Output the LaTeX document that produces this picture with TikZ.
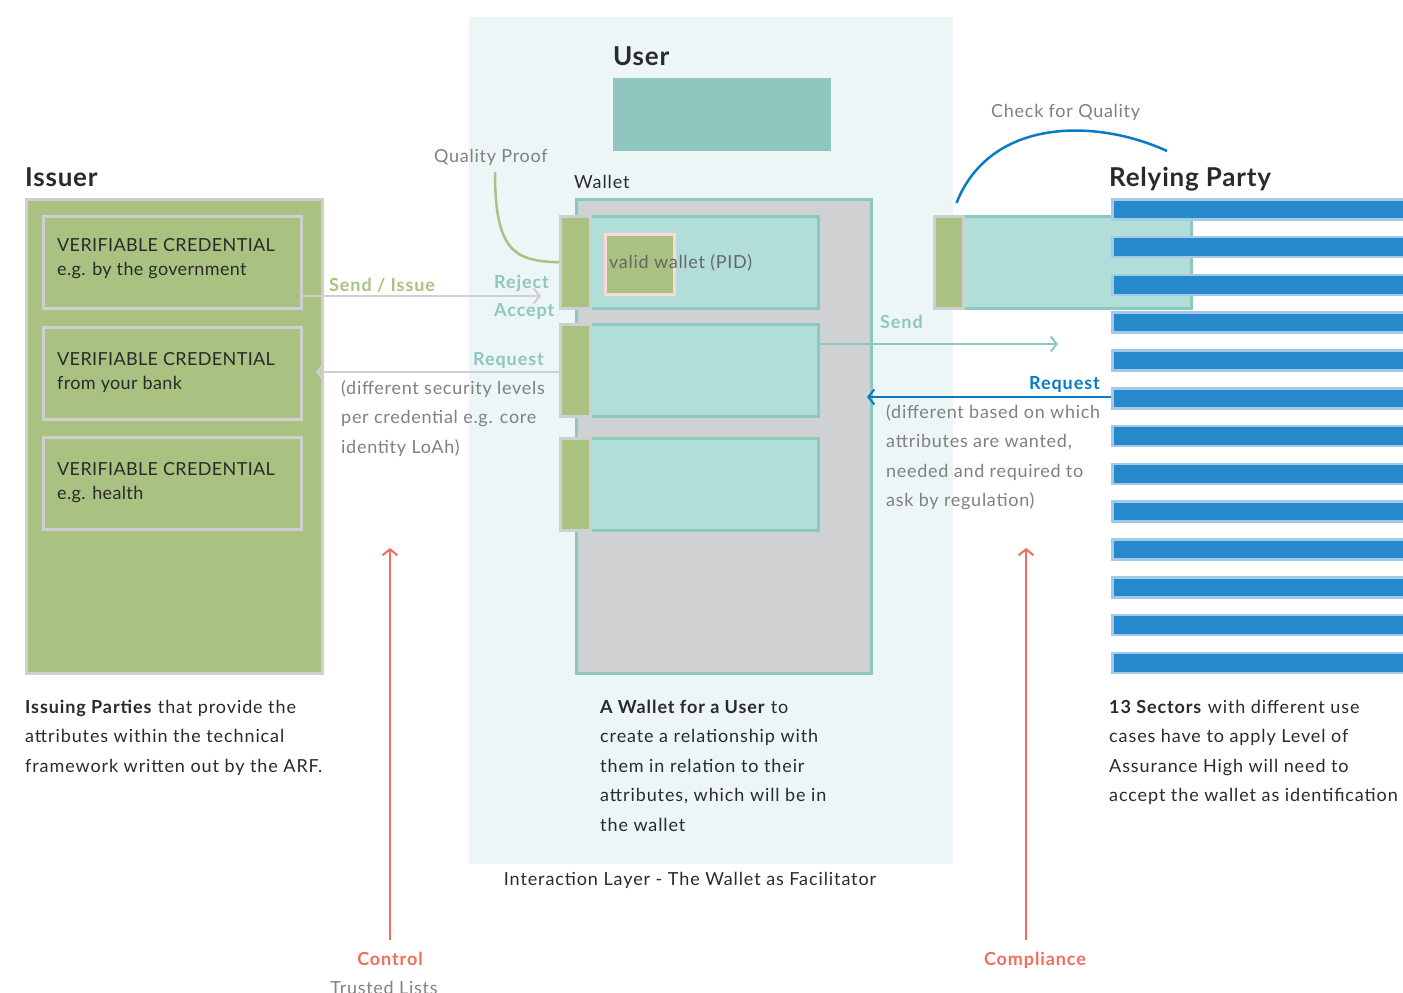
\documentclass[tikz,border=0pt]{standalone}
\usepackage{fontspec}
\setmainfont{Lato}
\usetikzlibrary{arrows.meta}
\definecolor{bgpale}{HTML}{ECF6F7}
\definecolor{leaf}{HTML}{A9C281}
\definecolor{teal}{HTML}{8FC6BF}
\definecolor{aqua}{HTML}{B2DED9}
\definecolor{tealline}{HTML}{8CC8BE}
\definecolor{greyfill}{HTML}{D0D1D3}
\definecolor{greyline}{HTML}{CDCFD1}
\definecolor{barblue}{HTML}{2589CB}
\definecolor{barrim}{HTML}{A3C9E8}
\definecolor{linkblue}{HTML}{0B7AC4}
\definecolor{coral}{HTML}{F06E5E}
\definecolor{inkdark}{HTML}{2A2A2A}
\definecolor{inkgrey}{HTML}{808080}
% stacked lines whose baseline is the first line's
\newcommand\stack[1]{\begin{tabular}[t]{@{}l@{}}#1\end{tabular}}
\newcommand\wide[1]{\addfontfeatures{LetterSpace=#1}}
\tikzset{
  blk/.style={rectangle, inner sep=0pt, anchor=north west},
  title/.style={font=\fontsize{26}{30}\selectfont\bfseries\wide{3}, text=inkdark, anchor=base west, inner sep=0pt},
  body/.style={font=\fontsize{18}{29.5}\selectfont\wide{5}, text=inkdark, anchor=base west, inner sep=0pt},
  note/.style={font=\fontsize{18}{29.5}\selectfont\wide{4}, text=inkgrey, anchor=base west, inner sep=0pt},
  cred/.style={font=\fontsize{18}{24}\selectfont\wide{2}, text=inkdark, anchor=base west, inner sep=0pt},
  tag/.style={font=\fontsize{18}{20}\selectfont\bfseries\wide{5}, anchor=base west, inner sep=0pt},
  barb/.style={-{Straight Barb[length=6pt,width=15pt,line width=2pt]}},
  rpbar/.style={blk, fill=barblue, draw=barrim, line width=2.5pt, minimum width=300pt, minimum height=20pt},
}
\begin{document}
\begin{tikzpicture}[x=1pt,y=-1pt]
\useasboundingbox (0,0) rectangle (1403,993);
% interaction layer backdrop
\node[blk, fill=bgpale, minimum width=484pt, minimum height=847pt] (layer) at (469,17) {};

% ---------- Issuer ----------
\node[title] (issuerT) at (25,186) {Issuer};
\node[blk, fill=leaf, draw=greyline, line width=3pt, minimum width=296pt, minimum height=474pt] (issuer) at (25,198) {};
\node[blk, draw=greyline, line width=3pt, minimum width=258pt, minimum height=92pt] (vc1) at (42,215) {};
\node[blk, draw=greyline, line width=3pt, minimum width=258pt, minimum height=92pt] (vc2) at (42,326) {};
\node[blk, draw=greyline, line width=3pt, minimum width=258pt, minimum height=92pt] (vc3) at (42,436) {};
\node[cred] at (57,251) {\stack{VERIFIABLE CREDENTIAL\\e.g. by the government}};
\node[cred] at (57,365) {\stack{VERIFIABLE CREDENTIAL\\from your bank}};
\node[cred] at (57,475) {\stack{VERIFIABLE CREDENTIAL\\e.g. health}};
\node[body] at (25,713) {\stack{\textbf{Issuing Parties} that provide the\\attributes within the technical\\framework written out by the ARF.}};

% ---------- User and wallet ----------
\node[title] (userT) at (613,65) {User};
\node[blk, fill=teal, minimum width=218pt, minimum height=73pt] (user) at (613,78) {};
\node[body] (walletT) at (574,188) {Wallet};
\node[blk, fill=greyfill, draw=tealline, line width=2.5pt, minimum width=295pt, minimum height=474pt] (wallet) at (575,198) {};
\foreach \n/\y in {1/215,2/323,3/437}{
  \node[blk, fill=aqua, draw=tealline, line width=2.5pt, minimum width=228pt, minimum height=92pt] (slot\n) at (589,\y) {};
  \node[blk, fill=leaf, draw=greyline, line width=2.5pt, minimum width=30pt, minimum height=92pt] (tab\n) at (559,\y) {};
}
\node[blk, fill=leaf, draw=pink!60, line width=2.5pt, minimum width=69pt, minimum height=60pt] (pid) at (604,233) {};
\node[note, text=inkgrey!80!black] at (609,268) {valid wallet (PID)};
\node[body] at (600,713) {\stack{\textbf{A Wallet for a User} to\\create a relationship with\\them in relation to their\\attributes, which will be in\\the wallet}};
\node[body, anchor=base] at (690,885) {Interaction Layer - The Wallet as Facilitator};

% quality proof link
\node[note] (qpT) at (434,162) {Quality Proof};
\coordinate (qpStart) at (495,172);
\draw[leaf, line width=2.5pt] (qpStart) .. controls (495,252) and (515,261) .. (tab1.west);

% ---------- Issuer <-> wallet ----------
\coordinate (issueFrom) at (vc1.east |- 0,296);
\coordinate (issueTo) at (541,296);
\draw[greyline, line width=2.5pt, barb] (issueFrom) -- (issueTo);
\node[tag, text=leaf] at (329,291) {Send / Issue};
\node[tag, text=teal] at (494,288) {Reject};
\node[tag, text=teal] at (494,316) {Accept};
\coordinate (reqFrom) at (tab2.west |- 0,372);
\coordinate (reqTo) at (316,372);
\draw[greyline, line width=2.5pt, barb] (reqFrom) -- (reqTo);
\node[tag, text=teal, anchor=base east] at (544,365) {Request};
\node[note] at (341,394) {\stack{(different security levels\\per credential e.g. core\\identity LoAh)}};

% ---------- Relying party ----------
\node[title] (rpT) at (1109,186) {Relying Party};
\node[blk, fill=aqua, draw=tealline, line width=2.5pt, minimum width=228pt, minimum height=92pt] (rpslot) at (962,215) {};
\node[blk, fill=leaf, draw=greyline, line width=2.5pt, minimum width=29pt, minimum height=92pt] (rptab) at (933,215) {};
\foreach \i in {0,...,12}{
  \node[rpbar] (bar\i) at (1111,{198+37.8*\i}) {};
}
\node[body] at (1109,713) {\stack{\textbf{13 Sectors} with different use\\cases have to apply Level of\\Assurance High will need to\\accept the wallet as identification}};

% check for quality link
\node[note] (cqT) at (991,117) {Check for Quality};
\coordinate (cqEnd) at (1167,151);
\draw[linkblue, line width=2.5pt] (rptab.north east) ++(-8,-12) .. controls (990,118) and (1095,118) .. (cqEnd);

% ---------- Wallet <-> relying party ----------
\coordinate (sendFrom) at (slot2.east |- 0,344);
\coordinate (sendTo) at (1058,344);
\draw[tealline, line width=2.5pt, barb] (sendFrom) -- (sendTo);
\node[tag, text=teal] at (880,328) {Send};
\coordinate (rqFrom) at (bar5.west |- 0,397);
\coordinate (rqTo) at (867,397);
\draw[linkblue, line width=2.5pt, barb] (rqFrom) -- (rqTo);
\node[tag, text=linkblue, anchor=base east] at (1100,389) {Request};
\node[note] at (886,418) {\stack{(different based on which\\attributes are wanted,\\needed and required to\\ask by regulation)}};

% ---------- Governance arrows ----------
\coordinate (ctlBase) at (390,940);
\coordinate (ctlTip) at (390,548);
\draw[coral, line width=2.5pt, barb] (ctlBase) -- (ctlTip);
\node[tag, text=coral, anchor=base] at (390,965) {Control};
\node[note, anchor=base] at (384,994) {Trusted Lists};
\coordinate (cmpBase) at (1026,940);
\coordinate (cmpTip) at (1026,548);
\draw[coral, line width=2.5pt, barb] (cmpBase) -- (cmpTip);
\node[tag, text=coral, anchor=base] at (1035,965) {Compliance};
\end{tikzpicture}
\end{document}
